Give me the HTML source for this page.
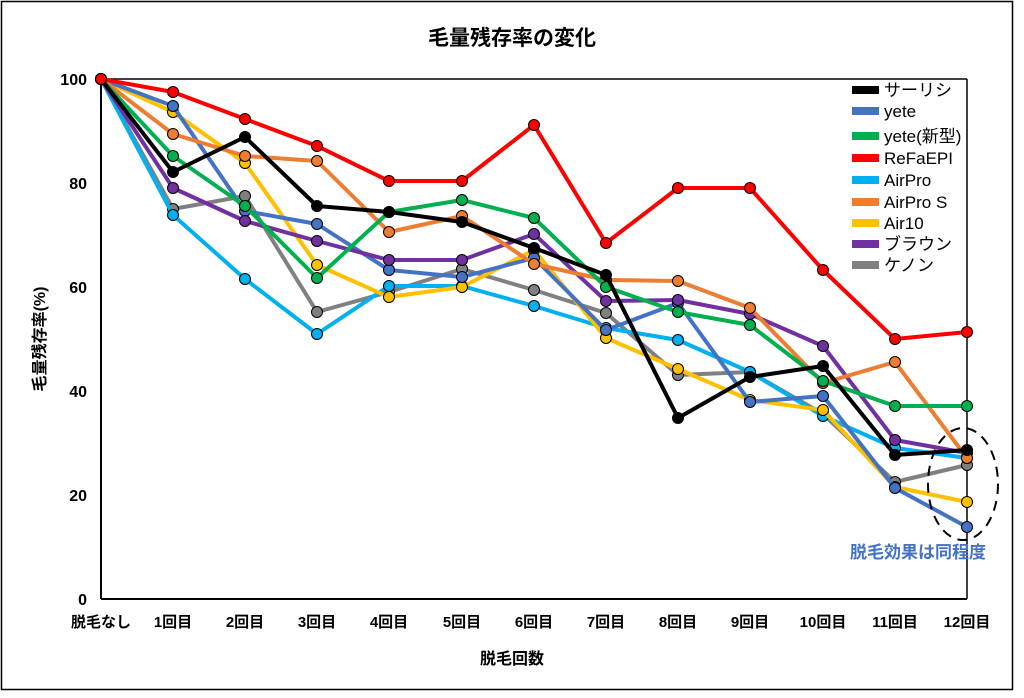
<!DOCTYPE html>
<html><head><meta charset="utf-8"><style>
html,body{margin:0;padding:0;background:#fff}
svg{display:block}
text{font-family:"Liberation Sans","Noto Sans CJK JP",sans-serif}
</style></head><body>
<svg width="1024" height="698" viewBox="0 0 1024 698" xmlns="http://www.w3.org/2000/svg">
<rect x="1.5" y="1.5" width="1011" height="688" fill="#fff" stroke="#000" stroke-width="1.5"/>
<text x="512" y="45" text-anchor="middle" font-size="21" font-weight="bold">毛量残存率の変化</text>
<line x1="101" y1="79" x2="967" y2="79" stroke="#000" stroke-width="1.5"/>
<line x1="967" y1="79" x2="967" y2="599" stroke="#000" stroke-width="1.5"/>
<line x1="101" y1="79" x2="101" y2="599" stroke="#000" stroke-width="2"/>
<line x1="101" y1="599" x2="967" y2="599" stroke="#000" stroke-width="2"/>
<g font-size="16" font-weight="bold" text-anchor="end">
<text x="87" y="85">100</text><text x="87" y="189">80</text><text x="87" y="293">60</text><text x="87" y="397">40</text><text x="87" y="501">20</text><text x="87" y="605">0</text>
</g>
<g font-size="15" font-weight="bold" text-anchor="middle">
<text x="101" y="627">脱毛なし</text><text x="173" y="627">1回目</text><text x="245" y="627">2回目</text><text x="317" y="627">3回目</text><text x="389" y="627">4回目</text><text x="462" y="627">5回目</text><text x="534" y="627">6回目</text><text x="606" y="627">7回目</text><text x="678" y="627">8回目</text><text x="750" y="627">9回目</text><text x="823" y="627">10回目</text><text x="895" y="627">11回目</text><text x="967" y="627">12回目</text>
</g>
<text x="512" y="664" text-anchor="middle" font-size="16" font-weight="bold">脱毛回数</text>
<text transform="translate(45,339) rotate(-90)" text-anchor="middle" font-size="16" font-weight="bold">毛量残存率(%)</text>
<g id="series" fill="none" stroke-width="4" stroke-linejoin="round"></g>
<ellipse cx="963" cy="484" rx="35" ry="56" fill="none" stroke="#000" stroke-width="2" stroke-dasharray="10,7"/>
<text x="850" y="558" font-size="17" font-weight="bold" fill="#4472c4">脱毛効果は同程度</text>
<g id="legend" font-size="17"></g>
</svg>
<script>
var X=[101,173,245,317,389,462,534,606,678,750,823,895,967];
var S=[
["ケノン","#808080",[79,209,196,312,292,269,290,313,375,372,414,482,465]],
["AirPro","#00b0f0",[79,215,279,334,286,286,306,328,340,372,416,448,458]],
["Air10","#ffc000",[79,112,163,265,297,287,250,338,369,400,410,487,502]],
["yete","#4472c4",[79,106,211,224,270,277,258,330,303,402,396,488,527]],
["ブラウン","#7030a0",[79,188,221,241,260,260,234,301,300,314,346,440,453]],
["AirPro S","#ed7d31",[79,134,156,161,232,216,264,280,281,308,383,362,458]],
["yete(新型)","#00b050",[79,156,206,278,212,200,218,287,312,325,381,406,406]],
["サーリシ","#000000",[79,172,137,206,212,222,248,275,418,377,366,455,450]],
["ReFaEPI","#ff0000",[79,92,119,146,181,181,125,243,188,188,270,339,332]]
];
var ns="http://www.w3.org/2000/svg",g=document.getElementById("series");
S.forEach(function(s){
 var p=document.createElementNS(ns,"polyline");
 p.setAttribute("points",s[2].map(function(y,i){return X[i]+","+y}).join(" "));
 p.setAttribute("stroke",s[1]);g.appendChild(p);
 s[2].forEach(function(y,i){var c=document.createElementNS(ns,"circle");
  c.setAttribute("cx",X[i]);c.setAttribute("cy",y);c.setAttribute("r",5.5);
  c.setAttribute("fill",s[1]);c.setAttribute("stroke","#000");c.setAttribute("stroke-width","1");g.appendChild(c);});
});
var L=[["サーリシ","#000000"],["yete","#4472c4"],["yete(新型)","#00b050"],["ReFaEPI","#ff0000"],["AirPro","#00b0f0"],["AirPro S","#ed7d31"],["Air10","#ffc000"],["ブラウン","#7030a0"],["ケノン","#808080"]];
var LY=[90,111,136,158,180,202,223,244,265],lg=document.getElementById("legend");
L.forEach(function(l,i){
 var r=document.createElementNS(ns,"rect");r.setAttribute("x",852);r.setAttribute("y",LY[i]-4);r.setAttribute("width",27);r.setAttribute("height",8);r.setAttribute("fill",l[1]);lg.appendChild(r);
 var t=document.createElementNS(ns,"text");t.setAttribute("x",884);t.setAttribute("y",LY[i]+6);t.textContent=l[0];lg.appendChild(t);
});
</script>
</body></html>
